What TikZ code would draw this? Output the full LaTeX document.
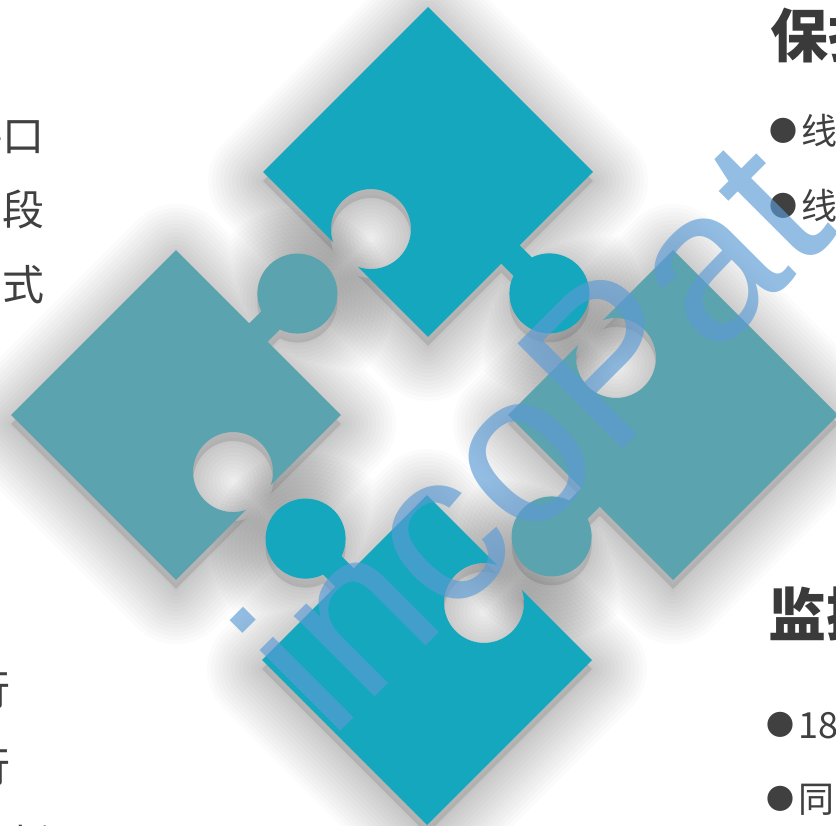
\documentclass[tikz,border=0pt]{standalone}
\usepackage{fontspec}
\newfontfamily\cjk{Noto Sans CJK SC}
\newfontfamily\wmfont{Liberation Sans}
\definecolor{tealA}{RGB}{20,167,189}
\definecolor{tealB}{RGB}{91,163,174}
\definecolor{ink}{RGB}{64,64,64}
\definecolor{wmblue}{RGB}{91,155,213}

% small list bullet set a little below the text size
\newcommand\listdot{\raisebox{3pt}{\fontsize{28}{28}\selectfont ●}\hspace{4pt}}

\tikzset{
  x=1pt, y=1pt,
  % outline of one puzzle piece: square with a knob on the lower edge and a hole on the left edge
  piece outline/.style={insert path={
      (-116.67,116.67) -- (116.67,116.67) -- (116.67,-116.67)
      -- (13,-116.67) -- (13,-133.84)
      arc[start angle=71.04, end angle=-251.04, radius=40]
      -- (-13,-116.67) -- (-116.67,-116.67) -- (-116.67,-17.44)
      arc[start angle=-154.15, end angle=154.15, radius=40] -- cycle}},
  piece/.pic={\path[pic actions, piece outline];},
  % soft shadow built from stacked translucent strokes
  pieceshadow/.pic={
    \path[fill=black, opacity=0.1, piece outline];
    \foreach \w in {110,102,...,6}{
      \path[draw=black, line width=\w pt, line join=round, opacity=0.017, piece outline];
    }
  },
  lefttext/.style={font=\cjk\fontsize{42}{42}\selectfont, text=ink, inner sep=0, anchor=base east},
  titletext/.style={font=\cjk\bfseries\fontsize{58}{58}\selectfont, text=ink!90!black, inner sep=0, anchor=base west},
  bullettext/.style={font=\cjk\fontsize{36}{36}\selectfont, text=ink, inner sep=0, anchor=base west},
  watermark/.style={font=\wmfont\fontsize{216}{216}\selectfont, text=wmblue, opacity=0.65, inner sep=0, anchor=base west, rotate=45}
}

\begin{document}
\begin{tikzpicture}
\useasboundingbox (0,0) rectangle (836,-826);
\fill[white] (0,0) rectangle (836,-826);

% shadows
\pic[yshift=-9pt, rotate=45]  at (428,-172) {pieceshadow};
\pic[yshift=-9pt, rotate=-45] at (673,-415) {pieceshadow};
\pic[yshift=-9pt, rotate=-135] at (427,-660) {pieceshadow};
\pic[yshift=-9pt, rotate=135] at (176,-415) {pieceshadow};

% the four pieces
\pic[fill=tealA, rotate=45]   at (428,-172) {piece};
\pic[fill=tealB, rotate=-45]  at (673,-415) {piece};
\pic[fill=tealA, rotate=-135] at (427,-660) {piece};
\pic[fill=tealB, rotate=135]  at (176,-415) {piece};

% left column
\node[lefttext] (l1) at (45,-152) {接口};
\node[lefttext] (l2) at (45,-226) {手段};
\node[lefttext] (l3) at (45,-301) {方式};
\node[lefttext] (l4) at (11,-705) {运行};
\node[lefttext] (l5) at (11,-782) {进行};
\node[lefttext] (l6) at (53,-860) {分析};

% right column
\node[titletext] (t1) at (770,-58) {保护};
\node[bullettext] (b1) at (769,-145) {\listdot 线};
\node[bullettext] (b2) at (769,-220) {\listdot 线};
\node[titletext] (t2) at (768,-636) {监控};
\node[bullettext] (b3) at (766,-738) {\listdot 18};
\node[bullettext] (b4) at (766,-812) {\listdot 同};

% watermark
\node[watermark] (wm) at (330,-742) {incoPat};
\end{tikzpicture}
\end{document}
